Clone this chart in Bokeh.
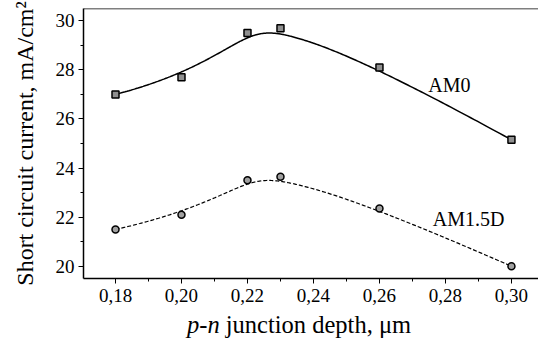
import numpy as np
from bokeh.plotting import figure
from bokeh.layouts import column
from bokeh.models import Range1d, FixedTicker, Label, Span, Div
from bokeh.embed import file_html
from bokeh.resources import INLINE

# junction depth (um) and short circuit current (mA/cm^2)
depth = [0.18, 0.20, 0.22, 0.23, 0.26, 0.30]
jsc_am0 = [27.0, 27.7, 29.5, 29.7, 28.1, 25.15]
jsc_am15d = [21.5, 22.1, 23.5, 23.65, 22.35, 20.0]

x_ticks = [0.18, 0.20, 0.22, 0.24, 0.26, 0.28, 0.30]
x_tick_labels = ["0,18", "0,20", "0,22", "0,24", "0,26", "0,28", "0,30"]
y_ticks = [20, 22, 24, 26, 28, 30]
y_tick_labels = ["20", "22", "24", "26", "28", "30"]

SERIF = "Liberation Serif"


def bspline(xs, ys, n=300):
    """Clamped cubic B-spline using the data points as control points."""
    pts = np.column_stack([xs, ys]).astype(float)
    k = 3
    m = len(pts)
    inner = np.arange(1, m - k)
    knots = np.concatenate([[0] * (k + 1), inner, [m - k] * (k + 1)]).astype(float)
    ts = np.linspace(0, m - k, n)
    out = []
    for t in ts:
        if t >= knots[-1]:
            s = m - 1
        else:
            s = np.searchsorted(knots, t, side="right") - 1
        d = [pts[j + s - k].copy() for j in range(k + 1)]
        for r in range(1, k + 1):
            for j in range(k, r - 1, -1):
                i = j + s - k
                den = knots[i + k - r + 1] - knots[i]
                a = 0.0 if den == 0 else (t - knots[i]) / den
                d[j] = (1 - a) * d[j - 1] + a * d[j]
        out.append(d[k])
    out = np.array(out)
    return out[:, 0], out[:, 1]


p = figure(width=538, height=312, output_backend="svg", toolbar_location=None,
           x_range=Range1d(0.1703, 0.3082), y_range=Range1d(19.5, 30.5),
           min_border_left=83, min_border_right=0, min_border_top=8,
           min_border_bottom=34)
p.outline_line_color = None
p.background_fill_color = "white"
p.border_fill_color = "white"
p.grid.visible = False

# top frame line
p.add_layout(Span(location=30.5, dimension="width", line_color="black", line_width=1.5))

for ax in (p.xaxis[0], p.yaxis[0]):
    ax.axis_line_color = "black"
    ax.axis_line_width = 1.5
    ax.major_tick_line_color = "black"
    ax.minor_tick_line_color = "black"
    ax.major_tick_in = 0
    ax.major_tick_out = 5
    ax.minor_tick_in = 0
    ax.minor_tick_out = 3
    ax.major_label_text_font = SERIF
    ax.major_label_text_font_size = "19px"
    ax.major_label_text_color = "black"

p.xaxis.ticker = FixedTicker(ticks=x_ticks,
                             minor_ticks=[round(v + 0.01, 2) for v in x_ticks[:-1]] + [0.31])
p.xaxis.major_label_overrides = dict(zip(x_ticks, x_tick_labels))
p.xaxis.major_label_standoff = 5

p.yaxis.ticker = FixedTicker(ticks=y_ticks, minor_ticks=[v + 1 for v in y_ticks])
p.yaxis.major_label_overrides = dict(zip(y_ticks, y_tick_labels))
p.yaxis.major_label_standoff = 4
p.yaxis.axis_label = "Short circuit current, mA/cm\u00b2"
p.yaxis.axis_label_text_font = SERIF
p.yaxis.axis_label_text_font_size = "24px"
p.yaxis.axis_label_text_font_style = "normal"
p.yaxis.axis_label_text_color = "black"
p.yaxis.axis_label_standoff = 15

# AM0 curve
cx, cy = bspline(depth, jsc_am0)
p.line(cx, cy, line_color="black", line_width=1.5)
p.scatter(depth, jsc_am0, marker="square", size=7, fill_color="#909090",
          line_color="black", line_width=1.5)

# AM1.5D curve
dx, dy = bspline(depth, jsc_am15d)
p.line(dx, dy, line_color="black", line_width=1.2, line_dash="4 2")
p.scatter(depth, jsc_am15d, marker="circle", size=7, fill_color="#a0a0a0",
          line_color="black", line_width=1.5)

# series labels
p.add_layout(Label(x=0.2812, y=27.40, text="AM0", text_font=SERIF,
                   text_font_size="20px", text_align="center",
                   text_baseline="middle", text_color="black"))
p.add_layout(Label(x=0.2870, y=21.91, text="AM1.5D", text_font=SERIF,
                   text_font_size="20px", text_align="center",
                   text_baseline="middle", text_color="black"))

# x axis title with italic "p-n"
xtitle = Div(
    text='<i>p-n</i> junction depth, \u03bcm',
    width=538, height=26, margin=(0, 0, 0, 0),
    styles={"font-family": "'Liberation Serif', serif", "font-size": "24.5px",
            "line-height": "25px", "color": "black", "padding-left": "187px",
            "white-space": "nowrap"},
)

open("out.html", "w").write(file_html(column(p, xtitle, spacing=0), INLINE))
